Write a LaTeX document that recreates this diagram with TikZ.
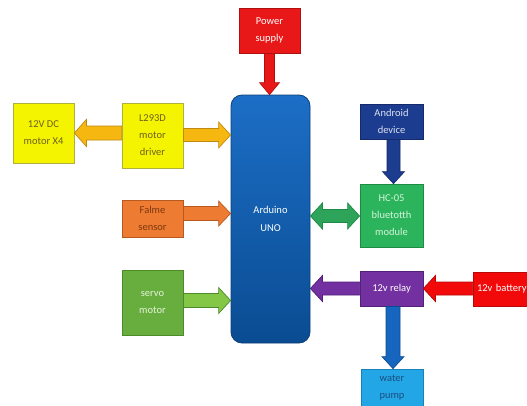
\documentclass[tikz,border=0pt]{standalone}
\usepackage{fontspec}
\setmainfont{Carlito}
\usetikzlibrary{calc}
\definecolor{pwr}{HTML}{E81818}
\definecolor{pwrD}{HTML}{B01010}
\definecolor{yel}{HTML}{F4F400}
\definecolor{yelD}{HTML}{B0B040}
\definecolor{yelT}{HTML}{6E6020}
\definecolor{gold}{HTML}{F6B810}
\definecolor{goldD}{HTML}{C08A10}
\definecolor{ardT}{HTML}{1C6EC6}
\definecolor{ardB}{HTML}{0A4C92}
\definecolor{ardD}{HTML}{0E3F78}
\definecolor{navy}{HTML}{1C3C90}
\definecolor{navyD}{HTML}{142A6A}
\definecolor{hc}{HTML}{2CB45C}
\definecolor{hcD}{HTML}{1E8A44}
\definecolor{hcT}{HTML}{D4F4DC}
\definecolor{hcA}{HTML}{2EA45A}
\definecolor{org}{HTML}{EE7B32}
\definecolor{orgD}{HTML}{B85A20}
\definecolor{orgT}{HTML}{7A3812}
\definecolor{srv}{HTML}{68AE3E}
\definecolor{srvD}{HTML}{4C8A2A}
\definecolor{srvA}{HTML}{84C646}
\definecolor{srvT}{HTML}{E4F2DA}
\definecolor{pur}{HTML}{7230A0}
\definecolor{purD}{HTML}{52207A}
\definecolor{bat}{HTML}{F20A0A}
\definecolor{batD}{HTML}{B80808}
\definecolor{wat}{HTML}{22A6E6}
\definecolor{watD}{HTML}{1A80B8}
\definecolor{watT}{HTML}{1C4E80}
\definecolor{bluA}{HTML}{1666C0}
\definecolor{bluAD}{HTML}{0E4A90}
\newcommand\blockarrow[5]{% style, start, end, half shaft, half head
  \coordinate (ba-h) at ($(#3)!12pt!(#2)$);
  \draw[#1] ($(#2)!#4!90:(#3)$) -- ($(ba-h)!#4!90:(#3)$) -- ($(ba-h)!#5!90:(#3)$) -- (#3)
    -- ($(ba-h)!#5!-90:(#3)$) -- ($(ba-h)!#4!-90:(#3)$) -- ($(#2)!#4!-90:(#3)$) -- cycle;}
\newcommand\doublearrow[5]{% style, start, end, half shaft, half head
  \coordinate (ba-h) at ($(#3)!12pt!(#2)$);
  \coordinate (ba-g) at ($(#2)!12pt!(#3)$);
  \draw[#1] (#2) -- ($(ba-g)!#5!-90:(#2)$) -- ($(ba-g)!#4!-90:(#2)$)
    -- ($(ba-h)!#4!90:(#3)$) -- ($(ba-h)!#5!90:(#3)$) -- (#3)
    -- ($(ba-h)!#5!-90:(#3)$) -- ($(ba-h)!#4!-90:(#3)$)
    -- ($(ba-g)!#4!90:(#2)$) -- ($(ba-g)!#5!90:(#2)$) -- cycle;}
\tikzset{
  blk/.style={draw, line width=0.8pt, minimum width=61pt, inner sep=1pt, align=center,
    font=\fontsize{10.5}{17}\selectfont},
  barr/.style={line width=0.7pt, line join=miter}
}
\begin{document}
\begin{tikzpicture}[x=1pt,y=-1pt]
\useasboundingbox (0,0) rectangle (527,405);
\clip (0,0) rectangle (527,405);
\fill[white] (0,0) rectangle (527,405);
% nodes
\node[blk, fill=pwr, draw=pwrD, text=white, minimum height=45pt] (pwr) at (269.5,30.5) {Power\\supply};
\node[draw=ardD, line width=0.8pt, rounded corners=11pt, minimum width=79pt, minimum height=248pt,
  top color=ardT, bottom color=ardB, text=white, align=center, font=\fontsize{10.5}{18}\selectfont]
  (ard) at (270.5,219) {Arduino\\UNO};
\node[blk, fill=yel, draw=yelD, text=yelT, minimum height=60pt] (dc) at (43.5,133) {12V DC\\motor X4};
\node[blk, fill=yel, draw=yelD, text=yelT, minimum height=65pt] (drv) at (152.5,135.5) {L293D\\motor\\driver};
\node[blk, fill=org, draw=orgD, text=orgT, minimum height=37pt] (flm) at (152.5,218.5) {Falme\\sensor};
\node[blk, fill=srv, draw=srvD, text=srvT, minimum height=65pt] (srv) at (152.5,302.5) {servo\\motor};
\node[blk, fill=navy, draw=navyD, text=white!85!navy, minimum width=63pt, minimum height=35pt] (and) at (391.5,121.5) {Android\\device};
\node[blk, fill=hc, draw=hcD, text=hcT, minimum width=63pt, minimum height=63pt] (hc) at (391.5,215.5) {HC-05\\bluetotth\\module};
\node[blk, fill=pur, draw=purD, text=white, minimum width=63pt, minimum height=35pt] (rly) at (391.5,288.5) {12v relay};
\node[blk, fill=bat, draw=batD, text=white, minimum width=63pt, minimum height=34pt,
  inner xsep=3.5pt, text width=55pt, align=left] (bat) at (504.5,289) {12v battery};
\node[blk, fill=wat, draw=watD, text=watT, minimum width=62pt, minimum height=38pt] (wp) at (392,388) {water\\pump};
% arrow end points
\coordinate (a1) at (pwr.south);
\coordinate (a2) at (ard.north -| pwr.south);
\coordinate (b1) at (drv.west |- dc.east);
\coordinate (b2) at (dc.east);
\coordinate (c1) at ($(drv.east)+(0,-0.5)$);
\coordinate (c2) at (ard.west |- c1);
\coordinate (d1) at ($(flm.east)+(0,-5)$);
\coordinate (d2) at (ard.west |- d1);
\coordinate (e1) at ($(srv.east)+(0,-2)$);
\coordinate (e2) at (ard.west |- e1);
\coordinate (f1) at ($(ard.east)+(0,-3)$);
\coordinate (f2) at (hc.west |- f1);
\coordinate (g1) at ($(and.south)+(2,0)$);
\coordinate (g2) at (hc.north -| g1);
\coordinate (h1) at (rly.west);
\coordinate (h2) at (ard.east |- rly.west);
\coordinate (i1) at (bat.west |- rly.east);
\coordinate (i2) at (rly.east);
\coordinate (j1) at ($(rly.south)+(1.5,0)$);
\coordinate (j2) at (wp.north -| j1);
% arrows
\blockarrow{barr, fill=pwr, draw=pwrD}{a1}{a2}{5pt}{10pt}
\blockarrow{barr, fill=gold, draw=goldD}{b1}{b2}{7pt}{13.5pt}
\blockarrow{barr, fill=gold, draw=goldD}{c1}{c2}{6.5pt}{13pt}
\blockarrow{barr, fill=org, draw=orgD}{d1}{d2}{7pt}{12.5pt}
\blockarrow{barr, fill=srvA, draw=srvD}{e1}{e2}{7pt}{13pt}
\doublearrow{barr, fill=hcA, draw=hcD}{f1}{f2}{6.5pt}{13pt}
\blockarrow{barr, fill=navy, draw=navyD}{g1}{g2}{6.5pt}{11pt}
\blockarrow{barr, fill=pur, draw=purD}{h1}{h2}{6.5pt}{13pt}
\blockarrow{barr, fill=bat, draw=batD}{i1}{i2}{6.5pt}{13pt}
\blockarrow{barr, fill=bluA, draw=bluAD}{j1}{j2}{7pt}{11pt}
\end{tikzpicture}
\end{document}
